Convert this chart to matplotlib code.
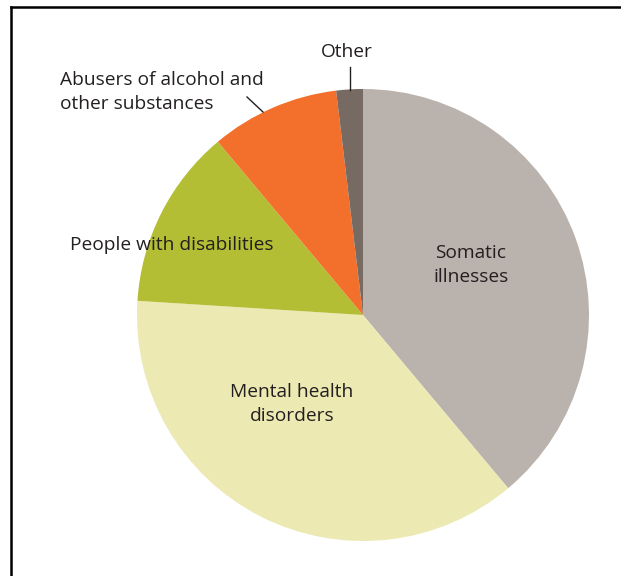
import matplotlib
matplotlib.use("Agg")
import matplotlib.pyplot as plt
from matplotlib.lines import Line2D

categories = ["Somatic illnesses", "Mental health disorders", "People with disabilities",
              "Abusers of alcohol and other substances", "Other"]
values = [38.9, 37.1, 12.9, 9.2, 1.9]
colors = ["#BAB2AC", "#ECE9B3", "#B3BE34", "#F36F2C", "#766A62"]

plt.rcParams['font.family'] = ['Open Sans', 'DejaVu Sans']

W, H = 621, 576
fig = plt.figure(figsize=(W / 100, H / 100), dpi=100)

cx, cy, r = 363, 315, 226
ax = fig.add_axes([(cx - r) / W, (H - cy - r) / H, 2 * r / W, 2 * r / H])
ax.pie(values, colors=colors, startangle=90, counterclock=False, radius=1,
       wedgeprops=dict(linewidth=0))
ax.set_xlim(-1, 1)
ax.set_ylim(-1, 1)
ax.set_aspect('equal')
ax.axis('off')

def fx(px):
    return px / W

def fy(py):
    return 1 - py / H

fs = 13.8
col = "#231F20"
fig.text(fx(471), fy(265), "Somatic\nillnesses", ha='center', va='center', fontsize=fs, color=col, linespacing=1.4)
fig.text(fx(292), fy(404), "Mental health\ndisorders", ha='center', va='center', fontsize=fs, color=col, linespacing=1.4)
fig.text(fx(70), fy(245), "People with disabilities", ha='left', va='center', fontsize=fs, color=col)
fig.text(fx(60), fy(92), "Abusers of alcohol and\nother substances", ha='left', va='center', fontsize=fs, color=col, linespacing=1.4)
fig.text(fx(347), fy(52), "Other", ha='center', va='center', fontsize=fs, color=col)

# leader lines
fig.add_artist(Line2D([fx(247), fx(263)], [fy(97), fy(112)], color=col, lw=1))
fig.add_artist(Line2D([fx(350), fx(350)], [fy(67), fy(90)], color=col, lw=1))

# frame
fig.add_artist(Line2D([fx(11), fx(11)], [fy(7), 0], color='black', lw=1.8))
fig.add_artist(Line2D([fx(11), 1], [fy(7), fy(7)], color='black', lw=1.8))

fig.savefig("out.png", dpi=100, facecolor='white')
